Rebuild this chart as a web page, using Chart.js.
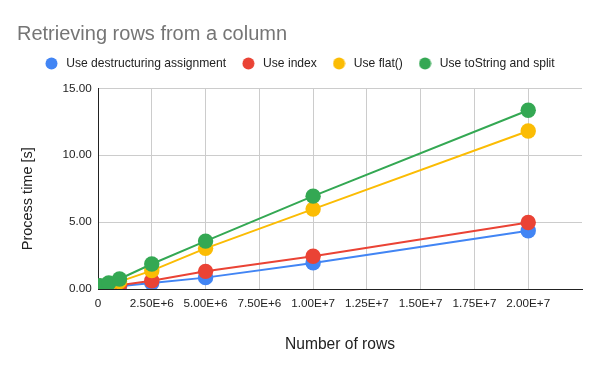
<!DOCTYPE html>
<html>
<head>
<meta charset="utf-8">
<script src="https://cdn.jsdelivr.net/npm/chart.js@4.4.1/dist/chart.umd.min.js"></script>
<style>
  html, body { margin: 0; padding: 0; background: #ffffff; }
  canvas { display: block; }
</style>
</head>
<body>
<canvas id="c" width="600" height="371"></canvas>
<script>
// ---- data ----
const chartTitle = 'Retrieving rows from a column';
const xAxisTitle = 'Number of rows';
const yAxisTitle = 'Process time [s]';
const seriesNames = ['Use destructuring assignment', 'Use index', 'Use flat()', 'Use toString and split'];
const rowCounts = [100000, 500000, 1000000, 2500000, 5000000, 10000000, 20000000];
const destructuringTimes = [0.03, 0.10, 0.20, 0.45, 0.85, 1.95, 4.35];
const indexTimes = [0.05, 0.15, 0.28, 0.62, 1.32, 2.45, 4.97];
const flatTimes = [0.10, 0.30, 0.55, 1.37, 3.04, 5.97, 11.81];
const toStringSplitTimes = [0.25, 0.45, 0.75, 1.87, 3.58, 6.94, 13.36];
const xTickStep = 2500000;
const xMax = 22500000;
const yTickStep = 5;
const yMax = 15;

const colors = ['#4285F4', '#EA4335', '#FBBC04', '#34A853'];
const FONT = "'Liberation Sans', Arial, sans-serif";

function toPoints(values) {
  return rowCounts.map((x, i) => ({ x: x, y: values[i] }));
}

function dot(color) {
  const c = document.createElement('canvas');
  c.width = 13; c.height = 13;
  const g = c.getContext('2d');
  g.fillStyle = color;
  g.beginPath();
  g.arc(6.5, 6.5, 6, 0, Math.PI * 2);
  g.fill();
  return c;
}
const legendDots = colors.map(dot);

const allValues = [destructuringTimes, indexTimes, flatTimes, toStringSplitTimes];
const datasets = allValues.map((vals, i) => ({
  label: seriesNames[i],
  data: toPoints(vals),
  borderColor: colors[i],
  backgroundColor: colors[i],
  pointBackgroundColor: colors[i],
  pointBorderWidth: 0,
  pointRadius: 7.7,
  pointHoverRadius: 7.7,
  borderWidth: 2,
  tension: 0,
  order: allValues.length - i
}));

const legendShift = {
  id: 'legendShift',
  afterLayout(chart) {
    chart.legend.left += 12.3;
    chart.legend.top -= 8.75;
  }
};

new Chart(document.getElementById('c'), {
  type: 'line',
  data: { datasets: datasets },
  plugins: [legendShift],
  options: {
    responsive: false,
    animation: false,
    devicePixelRatio: 1,
    events: [],
    layout: { padding: { left: 17, right: 18, top: 0, bottom: 0 } },
    plugins: {
      tooltip: { enabled: false },
      title: {
        display: true,
        text: chartTitle,
        align: 'start',
        color: '#757575',
        font: { family: FONT, size: 20, weight: 'normal', lineHeight: 1.2 },
        padding: { top: 22.3, bottom: 6.35 }
      },
      legend: {
        display: true,
        position: 'top',
        align: 'start',
        labels: {
          usePointStyle: true,
          pointStyleWidth: 17.3,
          padding: 13.55,
          color: '#222222',
          font: { family: FONT, size: 12.1 },
          sort: (a, b) => a.datasetIndex - b.datasetIndex,
          generateLabels: (chart) =>
            Chart.defaults.plugins.legend.labels.generateLabels(chart).map(it =>
              Object.assign({}, it, { pointStyle: legendDots[it.datasetIndex] }))
        }
      }
    },
    scales: {
      x: {
        type: 'linear',
        min: 0,
        max: xMax,
        border: { color: '#222222', width: 1 },
        grid: {
          drawTicks: false,
          color: (ctx) => (ctx.tick && ctx.tick.value >= xMax) ? 'rgba(0,0,0,0)' : '#cccccc'
        },
        ticks: {
          stepSize: xTickStep,
          autoSkip: false,
          maxRotation: 0,
          padding: 7.5,
          color: '#222222',
          font: { family: FONT, size: 11.7 },
          callback: (v) => {
            if (v === 0) return '0';
            if (v >= xMax) return '';
            return Number(v).toExponential(2).toUpperCase();
          }
        },
        title: {
          display: true,
          text: xAxisTitle,
          color: '#222222',
          font: { family: FONT, size: 15.6 },
          padding: { top: 0, bottom: 17.3 }
        },
        afterFit: (s) => { s.height = 82; }
      },
      y: {
        min: 0,
        max: yMax,
        border: { color: '#222222', width: 1 },
        grid: { drawTicks: false, color: '#cccccc' },
        ticks: {
          stepSize: yTickStep,
          padding: 6.3,
          color: '#222222',
          font: { family: FONT, size: 11.7 },
          callback: (v) => Number(v).toFixed(2)
        },
        title: {
          display: true,
          text: yAxisTitle + '     ',
          color: '#222222',
          font: { family: FONT, size: 14.5 },
          padding: { top: 2.6, bottom: 0 }
        },
        afterFit: (s) => { s.width = 81; }
      }
    }
  }
});
</script>
</body>
</html>
